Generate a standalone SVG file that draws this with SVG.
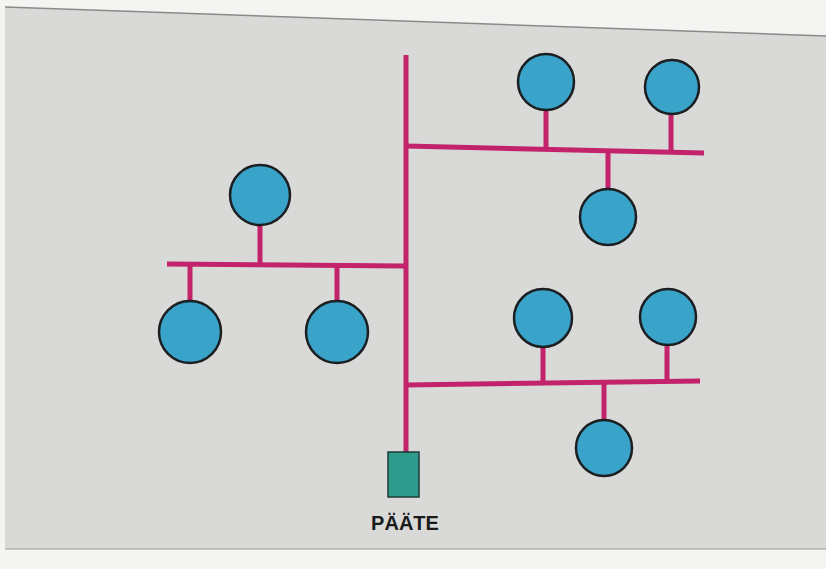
<svg xmlns="http://www.w3.org/2000/svg" width="826" height="569" viewBox="0 0 826 569">
<style>
.bus{stroke:#c2236b;stroke-width:5;stroke-linecap:butt;fill:none}
.node{fill:#3aa3c9;stroke:#1b1f22;stroke-width:2.5}
.term{fill:#2e9b8c;stroke:#1f3a36;stroke-width:1.5}
.lbl{font-family:"Liberation Sans",Arial,sans-serif;font-weight:bold;font-size:20px;fill:#1a1a1a}
</style>
<rect width="826" height="569" fill="#f4f4f2"/>
<polygon points="5,7 826,36 826,549 5,549" fill="#d9dad8"/>
<line x1="5" y1="7" x2="826" y2="36" stroke="#8a8b89" stroke-width="1.5"/>
<line x1="5" y1="549" x2="826" y2="549" stroke="#9a9b99" stroke-width="1"/>
<g id="connectors">
<line class="bus" x1="406" y1="55" x2="406" y2="452"/>
<line class="bus" x1="406" y1="146" x2="704" y2="153"/>
<line class="bus" x1="546" y1="108" x2="546" y2="149"/>
<line class="bus" x1="671" y1="112" x2="671" y2="152"/>
<line class="bus" x1="608" y1="150" x2="608" y2="190"/>
<line class="bus" x1="167" y1="264" x2="406" y2="266"/>
<line class="bus" x1="260" y1="224" x2="260" y2="265"/>
<line class="bus" x1="190" y1="264" x2="190" y2="302"/>
<line class="bus" x1="337" y1="265" x2="337" y2="302"/>
<line class="bus" x1="406" y1="385" x2="700" y2="381"/>
<line class="bus" x1="543" y1="346" x2="543" y2="384"/>
<line class="bus" x1="667" y1="344" x2="667" y2="382"/>
<line class="bus" x1="604" y1="383" x2="604" y2="421"/>
</g>
<g id="n1"><circle class="node" cx="546" cy="82" r="28"/></g>
<g id="n2"><circle class="node" cx="672" cy="87" r="27"/></g>
<g id="n3"><circle class="node" cx="608" cy="217" r="28"/></g>
<g id="n4"><circle class="node" cx="260" cy="195" r="30"/></g>
<g id="n5"><circle class="node" cx="190" cy="332" r="31"/></g>
<g id="n6"><circle class="node" cx="337" cy="332" r="31"/></g>
<g id="n7"><circle class="node" cx="543" cy="318" r="29"/></g>
<g id="n8"><circle class="node" cx="668" cy="317" r="28"/></g>
<g id="n9"><circle class="node" cx="604" cy="448" r="28"/></g>
<g id="terminal">
<rect class="term" x="388" y="452" width="31" height="45"/>
<text class="lbl" x="405" y="530" text-anchor="middle">PÄÄTE</text>
</g>
</svg>
